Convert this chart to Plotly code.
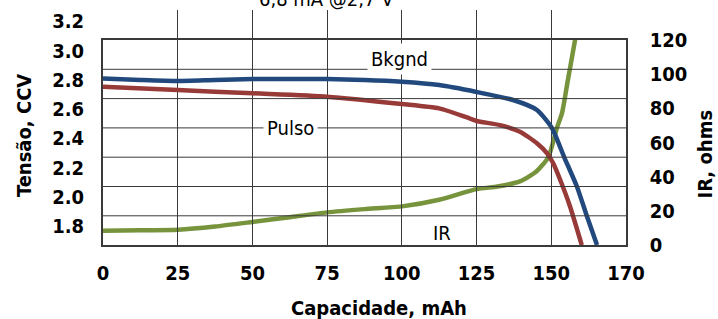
import plotly.graph_objects as go

# Capacity (mAh)
cap_bkgnd = [0, 12.5, 25, 37.5, 50, 75, 87.5, 100, 112.5, 125, 137.2, 145.2, 150.2, 154.3, 158.6, 161.9, 165.3]
v_bkgnd = [2.809, 2.799, 2.792, 2.799, 2.805, 2.805, 2.799, 2.787, 2.764, 2.717, 2.662, 2.594, 2.471, 2.273, 2.07, 1.87, 1.672]

cap_pulso = [0, 25, 50, 75, 100, 112.5, 122.6, 125, 132.8, 139.5, 145.2, 148.6, 150.6, 153, 156.3, 160.2]
v_pulso = [2.753, 2.730, 2.708, 2.685, 2.635, 2.605, 2.537, 2.519, 2.491, 2.446, 2.367, 2.298, 2.232, 2.116, 1.934, 1.672]

cap_ir = [0, 12.5, 25, 37.5, 50, 62.5, 75, 87.5, 100, 112.5, 125, 132, 139.5, 145, 149, 151.9, 153.6, 155.5, 158]
ir_ohms = [8.4, 8.6, 8.9, 10.8, 13.5, 16.3, 19.1, 21, 22.6, 26.5, 32.7, 34.2, 37.2, 43, 51.4, 68.6, 77.3, 96, 120.4]

x_tickvals = [0, 25, 50, 75, 100, 125, 150, 175]
x_ticktext = ["0", "25", "50", "75", "100", "125", "150", "170"]
v_ticks = [1.8, 2.0, 2.2, 2.4, 2.6, 2.8, 3.0, 3.2]
v_ticktext = ["1.8", "2.0", "2.2", "2.4", "2.6", "2.8", "3.0", "3.2"]
ir_ticks = [0, 20, 40, 60, 80, 100, 120]
# horizontal gridlines of the frame (on the voltage scale, offset from its labels)
v_grid = [1.8717, 2.0717, 2.2717, 2.4717, 2.6717, 2.8717]

FONT = "DejaVu Sans Condensed, DejaVu Sans, sans-serif"
BLUE = "#22497D"
RED = "#973A38"
GREEN = "#77943C"
GRID = "#3a3a3a"

fig = go.Figure()
fig.add_trace(go.Scatter(x=cap_bkgnd, y=v_bkgnd, xaxis="x", yaxis="y3", mode="lines",
                         line=dict(color=BLUE, width=4.5, shape="spline", smoothing=0.6),
                         name="Bkgnd", showlegend=False))
fig.add_trace(go.Scatter(x=cap_pulso, y=v_pulso, xaxis="x", yaxis="y3", mode="lines",
                         line=dict(color=RED, width=4.5, shape="spline", smoothing=0.6),
                         name="Pulso", showlegend=False))
fig.add_trace(go.Scatter(x=cap_ir, y=ir_ohms, xaxis="x", yaxis="y", mode="lines",
                         line=dict(color=GREEN, width=4.5, shape="spline", smoothing=0.6),
                         name="IR", showlegend=False))

for g in v_grid:
    fig.add_shape(type="line", xref="paper", yref="y3", x0=0, x1=1, y0=g, y1=g,
                  line=dict(color=GRID, width=1), layer="above")

main_top = (245 - 40) / 235

fig.update_layout(
    width=718, height=319, autosize=False,
    margin=dict(l=103, r=92, t=10, b=74, autoexpand=False),
    paper_bgcolor="white", plot_bgcolor="rgba(0,0,0,0)",
    font=dict(family=FONT, color="black"),
    xaxis=dict(range=[0, 175], tickvals=x_tickvals, ticktext=x_ticktext,
               showgrid=True, gridcolor=GRID, gridwidth=1,
               showline=True, linecolor=GRID, linewidth=1.5, mirror=True,
               zeroline=False, ticks="", ticklabelstandoff=9, automargin=False,
               tickfont=dict(family=FONT, size=20, weight="bold"), anchor="y"),
    yaxis=dict(domain=[0, main_top], range=[0, 120], tickmode="linear", tick0=0, dtick=20,
               side="right", showgrid=False,
               showline=True, linecolor=GRID, linewidth=1.5, mirror=True,
               zeroline=False, ticks="", ticklabelstandoff=18, automargin=False, anchor="x",
               tickfont=dict(family=FONT, size=20, weight="bold")),
    yaxis3=dict(domain=[0, 1], range=[1.6724, 3.2765], tickvals=v_ticks, ticktext=v_ticktext,
                showgrid=False, zeroline=False, ticks="", ticklabelstandoff=18,
                showline=False, anchor="x", side="left", automargin=False,
                tickfont=dict(family=FONT, size=20, weight="bold")),
    annotations=[
        dict(text="Bkgnd", x=99.1, y=2.942, xref="x", yref="y3", showarrow=False,
             xanchor="center", yanchor="middle",
             font=dict(family=FONT, size=20), bgcolor="white", borderpad=3),
        dict(text="Pulso", x=62.7, y=2.471, xref="x", yref="y3", showarrow=False,
             xanchor="center", yanchor="middle",
             font=dict(family=FONT, size=20), bgcolor="white", borderpad=3),
        dict(text="IR", x=113.5, y=1.754, xref="x", yref="y3", showarrow=False,
             xanchor="center", yanchor="middle",
             font=dict(family=FONT, size=20)),
        dict(text="6,8 mA @2,7 V", x=0.428, y=1.047, xref="paper", yref="paper",
             xanchor="center", yanchor="middle",
             showarrow=False, font=dict(family=FONT, size=20)),
        dict(text="Capacidade, mAh", x=0.528, y=-0.268, xref="paper", yref="paper",
             xanchor="center", yanchor="middle",
             showarrow=False, font=dict(family=FONT, size=20, weight="bold")),
        dict(text="Tensão, CCV", x=-0.151, y=0.464, xref="paper", yref="paper",
             xanchor="center", yanchor="middle",
             showarrow=False, textangle=-90, font=dict(family=FONT, size=20, weight="bold")),
        dict(text="IR, ohms", x=1.152, y=0.387, xref="paper", yref="paper",
             xanchor="center", yanchor="middle",
             showarrow=False, textangle=-90, font=dict(family=FONT, size=20, weight="bold")),
    ],
)

fig.write_html("out.html", config={"displayModeBar": False},
               post_script="document.body.style.margin='0px';")
